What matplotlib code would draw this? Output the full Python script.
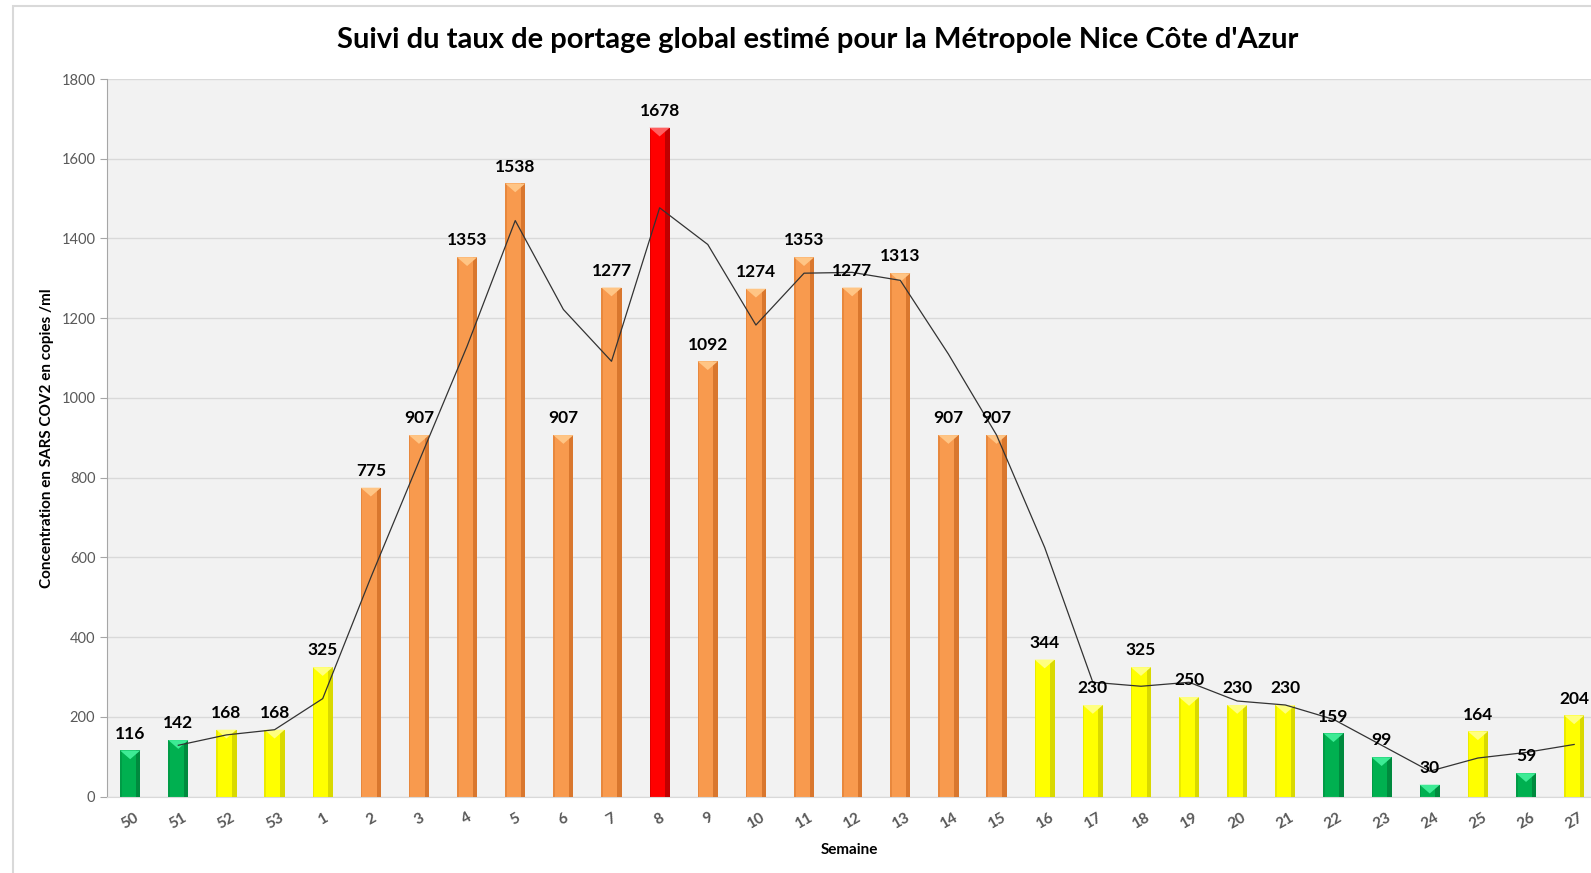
import matplotlib.pyplot as plt
import numpy as np
from matplotlib.patches import Polygon, Rectangle

# Données
semaines = ['50', '51', '52', '53', '1', '2', '3', '4', '5', '6', '7', '8', '9', '10', '11',
            '12', '13', '14', '15', '16', '17', '18', '19', '20', '21', '22', '23', '24', '25',
            '26', '27']
valeurs = [116, 142, 168, 168, 325, 775, 907, 1353, 1538, 907, 1277, 1678, 1092, 1274, 1353,
           1277, 1313, 907, 907, 344, 230, 325, 250, 230, 230, 159, 99, 30, 164, 59, 204]
niveaux = ['v', 'v', 'j', 'j', 'j', 'o', 'o', 'o', 'o', 'o', 'o', 'r', 'o', 'o', 'o',
           'o', 'o', 'o', 'o', 'j', 'j', 'j', 'j', 'j', 'j', 'v', 'v', 'v', 'j', 'v', 'j']
# moyenne mobile, à partir de la semaine 51
moyenne = [129, 155, 168, 246, 550, 841, 1130, 1445, 1222, 1092, 1477, 1385, 1183, 1313,
           1315, 1295, 1110, 907, 625, 287, 277, 287, 240, 230, 194, 129, 64, 97, 111, 131]

couleurs = {
    'v': ('#00B050', '#008A3E', '#3DEB95'),
    'j': ('#FFFF00', '#D9D900', '#FFFF80'),
    'o': ('#F89A4E', '#D9772E', '#FFC585'),
    'r': ('#FF0000', '#C00000', '#FF6060'),
}

fig = plt.figure(figsize=(15.91, 8.73), dpi=100)
ax = fig.add_axes([0.0673, 0.0874, 0.9327, 0.8221])
ax.set_facecolor('#F2F2F2')
police = 'Lato'

x = np.arange(len(valeurs))
larg = 0.42
ax.bar(x, valeurs, width=larg, color=[couleurs[n][0] for n in niveaux], zorder=2)

# effet de relief à la Excel
for xi, v, n in zip(x, valeurs, niveaux):
    base, fonce, clair = couleurs[n]
    ax.add_patch(Rectangle((xi + larg * 0.28, 0), larg * 0.22, v, color=fonce, lw=0, zorder=3))
    ax.add_patch(Rectangle((xi - larg / 2, 0), larg * 0.08, v, color=fonce, lw=0, zorder=3, alpha=0.5))
    h = min(v, 22)
    ax.add_patch(Polygon([(xi - larg / 2, v), (xi + larg / 2, v), (xi, v - h)],
                         closed=True, color=clair, lw=0, zorder=4))
    ax.text(xi, v + 22, str(v), ha='center', va='bottom', fontsize=12.5, fontweight='bold',
            family=police, color='black', zorder=6)

ax.plot(x[1:], moyenne, color='#333333', lw=0.9, zorder=5)

ax.set_xlim(-0.48, 30.35)
ax.set_ylim(0, 1800)
ax.set_yticks(np.arange(0, 1801, 200))
ax.yaxis.grid(True, color='#D9D9D9', lw=1, zorder=0)
ax.set_axisbelow(True)
ax.set_xticks(x)
ax.set_xticklabels(semaines, rotation=30, fontsize=11, color='#595959', family=police,
                   fontweight='bold')
for lab in ax.get_yticklabels():
    lab.set_family(police)
ax.tick_params(axis='y', labelsize=10.5, colors='#595959', length=5, color='#A6A6A6')
ax.tick_params(axis='x', length=0, pad=10)
for s in ['top', 'right']:
    ax.spines[s].set_visible(False)
ax.spines['left'].set_color('#A6A6A6')
ax.spines['bottom'].set_color('#D9D9D9')

ax.set_xlabel('Semaine', fontsize=11, fontweight='bold', family=police, labelpad=8)
ax.set_ylabel('Concentration en SARS COV2 en copies /ml', fontsize=11, fontweight='bold',
              family=police, labelpad=5)
fig.text(0.514, 0.954, "Suivi du taux de portage global estimé pour la Métropole Nice Côte d'Azur",
         ha='center', va='center', fontsize=21, fontweight='bold', family=police)

# cadre extérieur
fig.patches.append(Rectangle((0.008, -0.1), 1.2, 1.093, transform=fig.transFigure,
                             fill=False, ec='#D9D9D9', lw=1.5))

fig.savefig('out.png', dpi=100)
